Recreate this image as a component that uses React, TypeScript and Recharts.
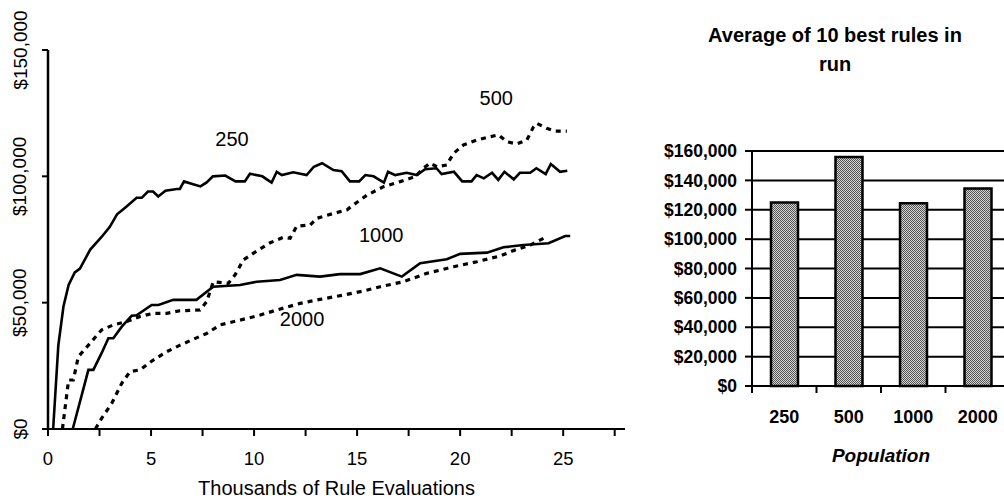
import React from 'react';
import {
  Bar,
  BarChart,
  CartesianGrid,
  Line,
  LineChart,
  ReferenceDot,
  XAxis,
  YAxis,
} from 'recharts';

// thousands of rule evaluations -> best rule value ($)
const pop250: [number, number][] = [
  [0.25, 0], [0.5, 33000], [0.75, 48500], [1.0, 57000], [1.3, 62000], [1.55, 63500],
  [2.05, 71000], [2.6, 76000], [3.0, 80000], [3.35, 85000], [3.8, 88000], [4.3, 91500],
  [4.55, 91500], [4.85, 94000], [5.1, 94000], [5.35, 92000], [5.7, 94300], [6.25, 95000],
  [6.4, 95000], [6.6, 98000], [7.0, 97000], [7.4, 96000], [7.7, 97600], [8.0, 100000],
  [8.6, 100300], [9.1, 98000], [9.55, 98000], [9.8, 101000], [10.4, 100000], [10.85, 97500],
  [11.1, 101800], [11.35, 100500], [11.9, 101600], [12.55, 100500], [12.9, 103800],
  [13.3, 105200], [13.85, 102500], [14.25, 102000], [14.65, 98000], [15.1, 98000],
  [15.4, 100500], [15.8, 100000], [16.3, 97500], [16.5, 101800], [16.85, 100500],
  [17.4, 101400], [17.9, 100500], [18.3, 102800], [18.85, 103200], [19.1, 100900],
  [19.7, 101800], [20.1, 98000], [20.55, 98000], [20.8, 100500], [21.15, 99200],
  [21.55, 101400], [21.85, 98600], [22.15, 101800], [22.6, 98800], [22.9, 101400],
  [23.4, 101400], [23.7, 103200], [24.15, 100900], [24.4, 104900], [24.85, 101800],
  [25.2, 102200],
];

const pop500: [number, number][] = [
  [0.7, 0], [1.0, 19400], [1.23, 19400], [1.47, 28600], [2.04, 33900], [2.6, 39200],
  [3.17, 41200], [3.82, 42500], [4.47, 44500], [5.1, 45800], [5.76, 45800], [6.4, 46800],
  [7.38, 47100], [7.7, 50400], [8.02, 58300], [8.75, 57700], [9.08, 61000], [9.48, 66900],
  [9.72, 68200], [10.2, 70800], [10.78, 73700], [11.42, 75900], [11.75, 75500],
  [12.07, 80300], [12.72, 80700], [13.05, 83400], [13.85, 85300], [14.5, 86700],
  [14.82, 88700], [15.47, 92500], [16.28, 95900], [17.09, 97900], [17.82, 99900],
  [18.22, 103200], [18.54, 105200], [18.87, 103800], [19.35, 104500], [19.68, 109100],
  [20.16, 112400], [20.81, 114400], [21.46, 115700], [21.86, 116400], [22.27, 113700],
  [22.75, 112800], [23.24, 114400], [23.56, 119600], [23.72, 121000], [24.2, 119000],
  [24.6, 117900], [25.18, 117900],
];

const pop1000: [number, number][] = [
  [1.2, 0], [1.64, 13500], [1.96, 23400], [2.2, 23400], [2.6, 30000], [2.93, 35900],
  [3.17, 35900], [3.58, 40500], [4.06, 44800], [4.3, 45000], [5.03, 49100], [5.36, 49100],
  [6.08, 51100], [7.2, 51100], [7.78, 54800], [8.02, 56300], [9.32, 57000], [10.13, 58300],
  [11.26, 59000], [12.07, 61000], [13.2, 60300], [14.17, 61300], [15.15, 61300],
  [16.12, 63600], [17.17, 60300], [18.06, 65600], [19.35, 67200], [20.0, 69300],
  [21.3, 69800], [22.1, 71900], [23.07, 72800], [24.29, 73500], [25.1, 76400], [25.34, 76400],
];

const pop2000: [number, number][] = [
  [2.3, 0], [2.6, 4200], [3.09, 10100], [3.58, 18100], [3.98, 22700], [4.47, 23400],
  [5.11, 27300], [5.76, 30600], [6.41, 33200], [7.05, 35500], [7.7, 37800], [8.35, 41200],
  [9.32, 43100], [10.3, 45100], [11.1, 47100], [12.23, 49700], [13.2, 51300], [14.34, 53000],
  [15.3, 54600], [16.12, 56300], [17.25, 58300], [18.38, 61600], [19.68, 64200],
  [20.81, 66200], [21.94, 68500], [22.59, 70600], [23.4, 72800], [24.05, 75500],
];

const X_TICKS = [0, 2.5, 5, 7.5, 10, 12.5, 15, 17.5, 20, 22.5, 25, 27.5];
const Y_TICKS = [0, 50000, 100000, 150000];

// where the population names sit on the line chart
const seriesLabels: [string, number, number][] = [
  ['250', 8.93, 114800],
  ['500', 21.75, 131000],
  ['1000', 16.17, 76800],
  ['2000', 12.33, 43500],
];

const populations = ['250', '500', '1000', '2000'];
const bestAverages = [125000, 156000, 124500, 134500];
const BAR_TICKS = [0, 20000, 40000, 60000, 80000, 100000, 120000, 140000, 160000];

const FONT = '"Liberation Sans", Arial, Helvetica, sans-serif';
const money = (v: number) => `$${v.toLocaleString('en-US')}`;
const toRows = (pts: [number, number][]) => pts.map(([x, v]) => ({ x, v }));

const RotatedTick = ({ x, y, payload }: any) => {
  const cx = x - 20;
  return (
    <text
      x={cx}
      y={y}
      transform={`rotate(-90, ${cx}, ${y})`}
      textAnchor="middle"
      dominantBaseline="central"
      fontSize={19}
      fontFamily={FONT}
      fill="#000"
    >
      {money(payload.value)}
    </text>
  );
};

const CategoryTick = ({ x, y, payload }: any) => {
  const edge = x - (payload.offset ?? 32);
  return (
    <g>
      <line x1={edge} x2={edge} y1={y} y2={y + 7} stroke="#000" strokeWidth={2} />
      <text
        x={x}
        y={y + 31}
        textAnchor="middle"
        dominantBaseline="central"
        fontSize={18}
        fontWeight="bold"
        fontFamily={FONT}
        fill="#000"
      >
        {payload.value}
      </text>
    </g>
  );
};

export default function App() {
  const series = [pop250, pop500, pop1000, pop2000].map(toRows);
  const dashed = [false, true, false, true];
  const barData = populations.map((pop, i) => ({ pop, avg: bestAverages[i] }));

  return (
    <div
      style={{
        position: 'absolute',
        left: 0,
        top: 0,
        width: 1004,
        height: 502,
        overflow: 'hidden',
        background: '#fff',
        fontFamily: FONT,
      }}
    >
      <div style={{ position: 'absolute', left: 0, top: 0 }}>
        <LineChart width={640} height={502} margin={{ top: 50, right: 15, bottom: 0, left: 0 }}>
          <XAxis
            type="number"
            dataKey="x"
            domain={[0, 28]}
            ticks={X_TICKS}
            interval={0}
            allowDataOverflow
            height={73}
            tickSize={7}
            tickMargin={16}
            axisLine={{ stroke: '#000', strokeWidth: 2 }}
            tickLine={{ stroke: '#000', strokeWidth: 2 }}
            tick={{ fill: '#000', fontSize: 18.5, fontFamily: FONT }}
            tickFormatter={(v: number) => (v % 5 === 0 ? String(v) : '')}
            label={{
              value: 'Thousands of Rule Evaluations',
              position: 'insideBottom',
              offset: 7,
              fontSize: 20,
              fill: '#000',
              fontFamily: FONT,
            }}
          />
          <YAxis
            type="number"
            domain={[0, 150000]}
            ticks={Y_TICKS}
            interval={0}
            width={48}
            tickSize={6}
            axisLine={{ stroke: '#000', strokeWidth: 2.5 }}
            tickLine={{ stroke: '#000', strokeWidth: 2 }}
            tick={<RotatedTick />}
          />
          {series.map((rows, i) => (
            <Line
              key={i}
              data={rows}
              dataKey="v"
              type="linear"
              dot={false}
              stroke="#000"
              strokeWidth={dashed[i] ? 3.2 : 2.6}
              strokeDasharray={dashed[i] ? '5 5' : undefined}
              isAnimationActive={false}
            />
          ))}
          {seriesLabels.map(([name, x, y]) => (
            <ReferenceDot
              key={name}
              x={x}
              y={y}
              r={0}
              fill="none"
              stroke="none"
              label={{ value: name, position: 'center', fontSize: 20, fill: '#000', fontFamily: FONT }}
            />
          ))}
        </LineChart>
      </div>

      <div
        style={{
          position: 'absolute',
          left: 685,
          top: 21,
          width: 300,
          textAlign: 'center',
          fontWeight: 'bold',
          fontSize: 20,
          lineHeight: '29px',
          color: '#000',
        }}
      >
        Average of 10 best rules in
        <br />
        run
      </div>

      <div style={{ position: 'absolute', left: 620, top: 0 }}>
        <BarChart
          width={400}
          height={502}
          data={barData}
          margin={{ top: 151, right: 10, bottom: 0, left: 0 }}
          barSize={27}
        >
          <defs>
            <pattern id="halftone" width="2" height="2" patternUnits="userSpaceOnUse">
              <rect width="2" height="2" fill="#d4d4d4" />
              <rect width="1" height="1" fill="#555" />
              <rect x="1" y="1" width="1" height="1" fill="#555" />
            </pattern>
          </defs>
          <CartesianGrid vertical={false} stroke="#000" strokeWidth={2} />
          <XAxis
            dataKey="pop"
            height={116}
            interval={0}
            tickSize={0}
            tickMargin={0}
            axisLine={{ stroke: '#000', strokeWidth: 2 }}
            tickLine={false}
            tick={<CategoryTick />}
            label={{
              value: 'Population',
              position: 'insideBottom',
              offset: 40,
              fontSize: 19,
              fontWeight: 'bold',
              fontStyle: 'italic',
              fill: '#000',
              fontFamily: FONT,
            }}
          />
          <YAxis
            type="number"
            domain={[0, 160000]}
            ticks={BAR_TICKS}
            interval={0}
            width={132}
            tickSize={7}
            tickMargin={8}
            axisLine={{ stroke: '#000', strokeWidth: 2 }}
            tickLine={{ stroke: '#000', strokeWidth: 2 }}
            tick={{ fill: '#000', fontSize: 17.5, fontWeight: 'bold', fontFamily: FONT }}
            tickFormatter={money}
          />
          <Bar
            dataKey="avg"
            fill="url(#halftone)"
            stroke="#000"
            strokeWidth={2.5}
            isAnimationActive={false}
          />
        </BarChart>
      </div>
    </div>
  );
}
